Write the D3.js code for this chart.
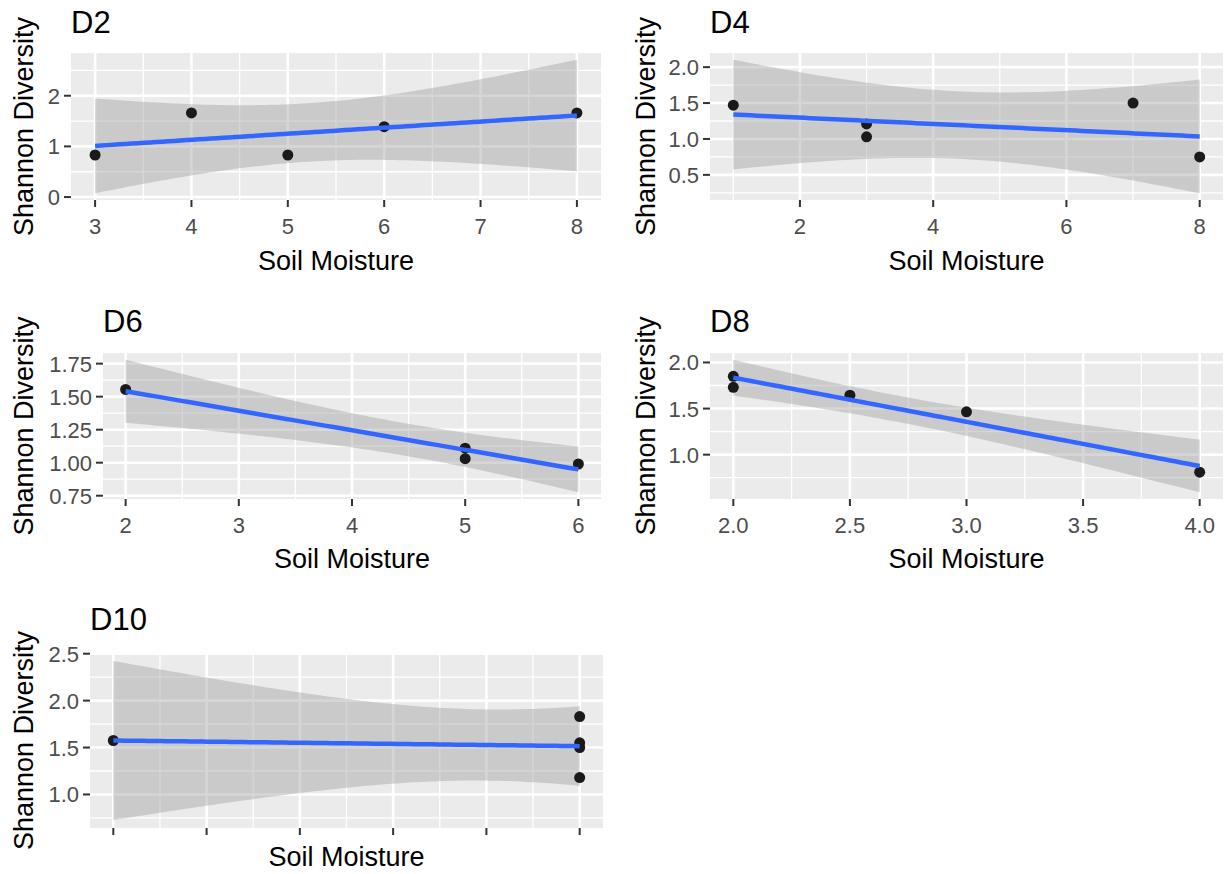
<!DOCTYPE html>
<html>
<head>
<meta charset="utf-8">
<title>Shannon Diversity vs Soil Moisture</title>
<script src="https://d3js.org/d3.v7.min.js"></script>
<style>
  body { margin: 0; background: #fff; }
  svg text { font-family: "Liberation Sans", Arial, sans-serif; }
</style>
</head>
<body>
<div id="chart"></div>
<script>
// ---- data ----
const d2Moisture = [3, 4, 5, 6, 8];
const d2Shannon = [0.83, 1.66, 0.83, 1.39, 1.66];
const d2XTicks = [3, 4, 5, 6, 7, 8];
const d2XLabels = ["3", "4", "5", "6", "7", "8"];
const d2YTicks = [0, 1, 2];
const d2YLabels = ["0", "1", "2"];

const d4Moisture = [1, 3, 3, 7, 8];
const d4Shannon = [1.47, 1.21, 1.03, 1.50, 0.75];
const d4XTicks = [2, 4, 6, 8];
const d4XLabels = ["2", "4", "6", "8"];
const d4YTicks = [0.5, 1.0, 1.5, 2.0];
const d4YLabels = ["0.5", "1.0", "1.5", "2.0"];

const d6Moisture = [2, 5, 5, 6];
const d6Shannon = [1.555, 1.11, 1.03, 0.99];
const d6XTicks = [2, 3, 4, 5, 6];
const d6XLabels = ["2", "3", "4", "5", "6"];
const d6YTicks = [0.75, 1.00, 1.25, 1.50, 1.75];
const d6YLabels = ["0.75", "1.00", "1.25", "1.50", "1.75"];

const d8Moisture = [2, 2, 2.5, 3, 4];
const d8Shannon = [1.85, 1.73, 1.645, 1.465, 0.81];
const d8XTicks = [2.0, 2.5, 3.0, 3.5, 4.0];
const d8XLabels = ["2.0", "2.5", "3.0", "3.5", "4.0"];
const d8YTicks = [1.0, 1.5, 2.0];
const d8YLabels = ["1.0", "1.5", "2.0"];

const d10Moisture = [1, 6, 6, 6, 6];
const d10Shannon = [1.575, 1.83, 1.55, 1.50, 1.18];
const d10XTicks = [1, 2, 3, 4, 5, 6];
const d10XLabels = ["", "", "", "", "", ""];
const d10YTicks = [1.0, 1.5, 2.0, 2.5];
const d10YLabels = ["1.0", "1.5", "2.0", "2.5"];

// two-sided 95% t quantiles by residual df (lm confidence band)
const tQuantile = {2: 4.303, 3: 3.182, 4: 2.776};

// ---- layout ----
const panels = [
  {title: "D2", xs: d2Moisture, ys: d2Shannon, xTicks: d2XTicks, xLabels: d2XLabels, yTicks: d2YTicks, yLabels: d2YLabels,
   box: {left: 71, right: 601, top: 53, bottom: 200}, titleY: 33, tickY: 234, xTitleY: 270, yTitleX: 24},
  {title: "D4", xs: d4Moisture, ys: d4Shannon, xTicks: d4XTicks, xLabels: d4XLabels, yTicks: d4YTicks, yLabels: d4YLabels,
   box: {left: 710, right: 1223, top: 53, bottom: 200}, titleY: 33, tickY: 234, xTitleY: 270, yTitleX: 646},
  {title: "D6", xs: d6Moisture, ys: d6Shannon, xTicks: d6XTicks, xLabels: d6XLabels, yTicks: d6YTicks, yLabels: d6YLabels,
   box: {left: 103, right: 601, top: 353, bottom: 499}, titleY: 332, tickY: 533, xTitleY: 568, yTitleX: 24},
  {title: "D8", xs: d8Moisture, ys: d8Shannon, xTicks: d8XTicks, xLabels: d8XLabels, yTicks: d8YTicks, yLabels: d8YLabels,
   box: {left: 710, right: 1223, top: 353, bottom: 499}, titleY: 332, tickY: 533, xTitleY: 568, yTitleX: 646},
  {title: "D10", xs: d10Moisture, ys: d10Shannon, xTicks: d10XTicks, xLabels: d10XLabels, yTicks: d10YTicks, yLabels: d10YLabels,
   box: {left: 90, right: 603, top: 653, bottom: 828}, titleY: 630, tickY: 862, xTitleY: 866, yTitleX: 24}
];

const svg = d3.select("#chart").append("svg")
  .attr("width", 1225)
  .attr("height", 874)
  .style("display", "block");

svg.append("rect").attr("width", 1225).attr("height", 874).attr("fill", "#fff");

// linear model + 95% confidence band, like geom_smooth(method = "lm")
function lmBand(xs, ys) {
  const n = xs.length;
  const mx = d3.mean(xs), my = d3.mean(ys);
  const sxx = d3.sum(xs, x => (x - mx) ** 2);
  const sxy = d3.sum(xs.map((x, i) => (x - mx) * (ys[i] - my)));
  const b = sxy / sxx, a = my - b * mx;
  const sse = d3.sum(xs.map((x, i) => (ys[i] - (a + b * x)) ** 2));
  const s = Math.sqrt(sse / (n - 2));
  const t = tQuantile[n - 2];
  const [x0, x1] = d3.extent(xs);
  return d3.range(80).map(i => {
    const x = x0 + (x1 - x0) * i / 79;
    const fit = a + b * x;
    const se = s * Math.sqrt(1 / n + (x - mx) ** 2 / sxx);
    return {x: x, y: fit, lo: fit - t * se, hi: fit + t * se};
  });
}

function minorBreaks(major, dom) {
  const step = major[1] - major[0];
  const ext = [major[0] - step].concat(major, [major[major.length - 1] + step]);
  const out = [];
  for (let i = 0; i < ext.length - 1; i++) out.push((ext[i] + ext[i + 1]) / 2);
  return out.filter(v => v >= dom[0] && v <= dom[1]);
}

function drawPanel(p) {
  const band = lmBand(p.xs, p.ys);
  const xExt = d3.extent(p.xs);
  const xPad = (xExt[1] - xExt[0]) * 0.05;
  const yLo = Math.min(d3.min(band, d => d.lo), d3.min(p.ys));
  const yHi = Math.max(d3.max(band, d => d.hi), d3.max(p.ys));
  const yPad = (yHi - yLo) * 0.05;
  const xDom = [xExt[0] - xPad, xExt[1] + xPad];
  const yDom = [yLo - yPad, yHi + yPad];

  const x = d3.scaleLinear().domain(xDom).range([p.box.left, p.box.right]);
  const y = d3.scaleLinear().domain(yDom).range([p.box.bottom, p.box.top]);
  const g = svg.append("g");

  // panel background
  g.append("rect")
    .attr("x", p.box.left).attr("y", p.box.top)
    .attr("width", p.box.right - p.box.left).attr("height", p.box.bottom - p.box.top)
    .attr("fill", "#EBEBEB");

  const xMajor = p.xTicks.filter(v => v >= xDom[0] && v <= xDom[1]);
  const yMajor = p.yTicks.filter(v => v >= yDom[0] && v <= yDom[1]);

  // minor grid
  g.selectAll(".vmin").data(minorBreaks(p.xTicks, xDom)).enter().append("line")
    .attr("x1", d => x(d)).attr("x2", d => x(d))
    .attr("y1", p.box.top).attr("y2", p.box.bottom)
    .attr("stroke", "#fff").attr("stroke-width", 1.3);
  g.selectAll(".hmin").data(minorBreaks(p.yTicks, yDom)).enter().append("line")
    .attr("y1", d => y(d)).attr("y2", d => y(d))
    .attr("x1", p.box.left).attr("x2", p.box.right)
    .attr("stroke", "#fff").attr("stroke-width", 1.3);
  // major grid
  g.selectAll(".vmaj").data(xMajor).enter().append("line")
    .attr("x1", d => x(d)).attr("x2", d => x(d))
    .attr("y1", p.box.top).attr("y2", p.box.bottom)
    .attr("stroke", "#fff").attr("stroke-width", 2.6);
  g.selectAll(".hmaj").data(yMajor).enter().append("line")
    .attr("y1", d => y(d)).attr("y2", d => y(d))
    .attr("x1", p.box.left).attr("x2", p.box.right)
    .attr("stroke", "#fff").attr("stroke-width", 2.6);

  // confidence band
  g.append("path").datum(band)
    .attr("d", d3.area().x(d => x(d.x)).y0(d => y(d.lo)).y1(d => y(d.hi)))
    .attr("fill", "#999999").attr("fill-opacity", 0.4);

  // points
  g.selectAll(".pt").data(p.xs.map((v, i) => [v, p.ys[i]])).enter().append("circle")
    .attr("cx", d => x(d[0])).attr("cy", d => y(d[1]))
    .attr("r", 5.5).attr("fill", "#1a1a1a");

  // fitted line
  g.append("path").datum(band)
    .attr("d", d3.line().x(d => x(d.x)).y(d => y(d.y)))
    .attr("fill", "none").attr("stroke", "#3366FF").attr("stroke-width", 4.5);

  // ticks
  g.selectAll(".xt").data(xMajor).enter().append("line")
    .attr("x1", d => x(d)).attr("x2", d => x(d))
    .attr("y1", p.box.bottom).attr("y2", p.box.bottom + 7)
    .attr("stroke", "#333").attr("stroke-width", 2);
  g.selectAll(".yt").data(yMajor).enter().append("line")
    .attr("y1", d => y(d)).attr("y2", d => y(d))
    .attr("x1", p.box.left - 7).attr("x2", p.box.left)
    .attr("stroke", "#333").attr("stroke-width", 2);

  // tick labels
  g.selectAll(".xl").data(p.xTicks).enter().append("text")
    .attr("x", d => x(d)).attr("y", p.tickY)
    .attr("text-anchor", "middle")
    .attr("font-size", 22).attr("fill", "#4D4D4D")
    .text((d, i) => p.xLabels[i]);
  g.selectAll(".yl").data(p.yTicks).enter().append("text")
    .attr("x", p.box.left - 11).attr("y", d => y(d) + 8)
    .attr("text-anchor", "end")
    .attr("font-size", 22).attr("fill", "#4D4D4D")
    .text((d, i) => p.yLabels[i]);

  // titles
  g.append("text")
    .attr("x", p.box.left).attr("y", p.titleY)
    .attr("font-size", 31).attr("fill", "#000")
    .text(p.title);
  g.append("text")
    .attr("x", (p.box.left + p.box.right) / 2).attr("y", p.xTitleY)
    .attr("text-anchor", "middle")
    .attr("font-size", 27).attr("fill", "#000")
    .text("Soil Moisture");
  g.append("text")
    .attr("transform", `translate(${p.yTitleX + 9},${(p.box.top + p.box.bottom) / 2}) rotate(-90)`)
    .attr("text-anchor", "middle")
    .attr("font-size", 27).attr("fill", "#000")
    .text("Shannon Diversity");
}

panels.forEach(drawPanel);
</script>
</body>
</html>
